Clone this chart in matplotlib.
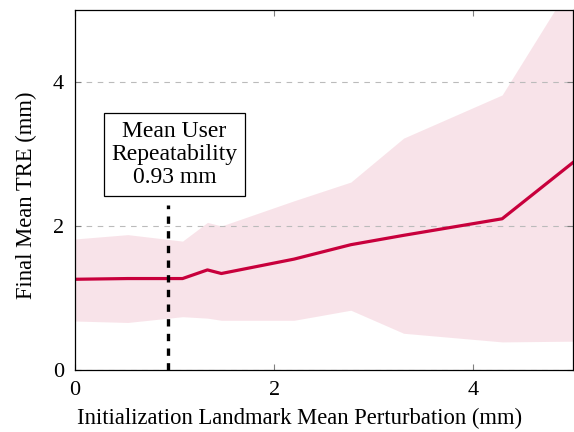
import matplotlib
matplotlib.use("Agg")
import matplotlib.pyplot as plt

plt.rcParams['font.family'] = ['Liberation Serif', 'DejaVu Serif']
plt.rcParams['mathtext.fontset'] = 'stix'

# data
perturbation = [0, 0.53, 1.08, 1.33, 1.47, 2.2, 2.77, 3.3, 4.29, 5.0]
mean_tre = [1.26, 1.27, 1.27, 1.39, 1.34, 1.54, 1.74, 1.87, 2.10, 2.88]
upper = [1.82, 1.88, 1.79, 2.05, 2.0, 2.35, 2.61, 3.22, 3.82, 5.4]
lower = [0.68, 0.66, 0.74, 0.72, 0.69, 0.69, 0.83, 0.51, 0.39, 0.40]
user_repeat = 0.93

color = '#c8003c'

fig = plt.figure(figsize=(5.74, 4.32), dpi=100)
ax = fig.add_axes([0.1307, 0.1435, 0.8673, 0.8335])

ax.fill_between(perturbation, lower, upper, color=color, alpha=0.11, linewidth=0)
ax.plot(perturbation, mean_tre, color=color, linewidth=2.3)
ax.plot([user_repeat, user_repeat], [0, 2.29], color='black', linewidth=2.4,
        linestyle=(0, (2.2, 2.2)))
ax.text(1.0, 2.99, "Mean User\nRepeatability\n0.93 mm", ha='center', va='center',
        fontsize=17, linespacing=1.12,
        bbox=dict(boxstyle='square,pad=0.33', facecolor='white', edgecolor='black', linewidth=0.9))

ax.set_xlim(0, 5)
ax.set_ylim(0, 5)
ax.set_xticks([0, 2, 4])
ax.set_yticks([0, 2, 4])
ax.yaxis.grid(True, linestyle=(0, (5, 5)), color='#bbbbbb', linewidth=0.8)
ax.tick_params(direction='in', top=True, right=True, color='gray', labelsize=16, length=4)
ax.tick_params(axis='x', pad=8)
ax.tick_params(axis='y', pad=8)
ax.set_xlabel("Initialization Landmark Mean Perturbation (mm)", fontsize=16.3)
ax.set_ylabel("Final Mean TRE (mm)", fontsize=16.3)
ax.xaxis.set_label_coords(0.452, -0.105)
ax.yaxis.set_label_coords(-0.076, 0.485)
for s in ax.spines.values():
    s.set_linewidth(0.9)

fig.savefig("out.png", dpi=100)
